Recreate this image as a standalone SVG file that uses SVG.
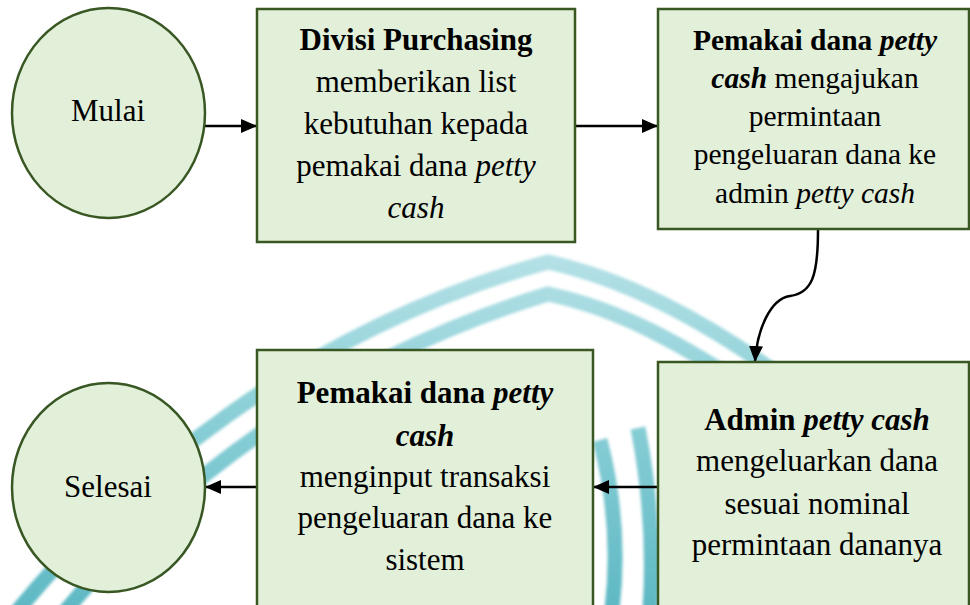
<svg xmlns="http://www.w3.org/2000/svg" width="970" height="605" viewBox="0 0 970 605" font-family="'Liberation Serif', 'Times New Roman', Tinos, serif">
<style>
.node rect, .node ellipse { fill:#e2efd9; stroke:#385723; stroke-width:2.5; }
text { font-family:'Liberation Serif', 'Times New Roman', Tinos, serif; font-size:31px; fill:#000; text-anchor:middle; }
.sm { font-size:29.5px; }
.b { font-weight:bold; }
.i { font-style:italic; }
.conn { stroke:#000; stroke-width:2.5; fill:none; marker-end:url(#arrow); }
.wm { stroke:url(#wmgrad); stroke-width:15; fill:none; stroke-linecap:butt; stroke-linejoin:miter; }
</style>
<defs>
<marker id="arrow" markerUnits="userSpaceOnUse" markerWidth="16" markerHeight="14" viewBox="0 0 16 14" refX="16" refY="7" orient="auto">
<path d="M0,0 L16,7 L0,14 z" fill="#000"/>
</marker>
<linearGradient id="wmgrad" gradientUnits="userSpaceOnUse" x1="0" y1="255" x2="0" y2="605">
<stop offset="0" stop-color="#b4e1e6"/>
<stop offset="0.5" stop-color="#86cdd5"/>
<stop offset="1" stop-color="#5fb9c4"/>
</linearGradient>
<filter id="soft" x="-5%" y="-5%" width="110%" height="110%">
<feGaussianBlur stdDeviation="1.6"/>
</filter>
</defs>
<rect x="0" y="0" width="970" height="605" fill="#ffffff"/>
<g id="watermark" filter="url(#soft)">
<path class="wm" d="M 14 615 C 120 485, 300 330, 548 262 C 620 278, 700 315, 800 390"/>
<path class="wm" d="M 62 615 C 165 490, 330 360, 548 294 C 615 308, 680 340, 780 410"/>
<path class="wm" d="M 600 440 Q 622 525 612 610"/>
<path class="wm" d="M 638 428 Q 656 520 650 610"/>
</g>
<g id="connectors">
<path class="conn" d="M 205 126 L 257 126"/>
<path class="conn" d="M 575 126 L 658 126"/>
<path class="conn" d="M 818 230 C 818 276, 812 293, 790 296 C 770 299, 757 330, 755 362"/>
<path class="conn" d="M 658 487 L 593 487"/>
<path class="conn" d="M 257 487 L 205 487"/>
</g>
<g id="mulai" class="node">
<ellipse cx="108.5" cy="113" rx="96.5" ry="105"/>
<text x="108" y="121">Mulai</text>
</g>
<g id="divisi-purchasing" class="node">
<rect x="257" y="9" width="318" height="233"/>
<text x="416" y="50" class="b">Divisi Purchasing</text>
<text x="416" y="92">memberikan list</text>
<text x="416" y="134">kebutuhan kepada</text>
<text x="416" y="176">pemakai dana <tspan class="i">petty</tspan></text>
<text x="416" y="218" class="i">cash</text>
</g>
<g id="pengajuan" class="node">
<rect x="658" y="9" width="311" height="220"/>
<text x="815" y="50" class="sm"><tspan class="b">Pemakai dana </tspan><tspan class="b i">petty</tspan></text>
<text x="815" y="88" class="sm"><tspan class="b i">cash</tspan> mengajukan</text>
<text x="815" y="126" class="sm">permintaan</text>
<text x="815" y="164" class="sm">pengeluaran dana ke</text>
<text x="815" y="203" class="sm">admin <tspan class="i">petty cash</tspan></text>
</g>
<g id="admin" class="node">
<rect x="658" y="362" width="311" height="260"/>
<text x="817" y="430"><tspan class="b">Admin </tspan><tspan class="b i">petty cash</tspan></text>
<text x="817" y="471">mengeluarkan dana</text>
<text x="817" y="514">sesuai nominal</text>
<text x="817" y="555">permintaan dananya</text>
</g>
<g id="input-transaksi" class="node">
<rect x="257" y="350" width="336" height="270"/>
<text x="425" y="403"><tspan class="b">Pemakai dana </tspan><tspan class="b i">petty</tspan></text>
<text x="425" y="446" class="b i">cash</text>
<text x="425" y="487">menginput transaksi</text>
<text x="425" y="528">pengeluaran dana ke</text>
<text x="425" y="570">sistem</text>
</g>
<g id="selesai" class="node">
<ellipse cx="108.5" cy="487.5" rx="96.5" ry="104.5"/>
<text x="108" y="497">Selesai</text>
</g>
</svg>
